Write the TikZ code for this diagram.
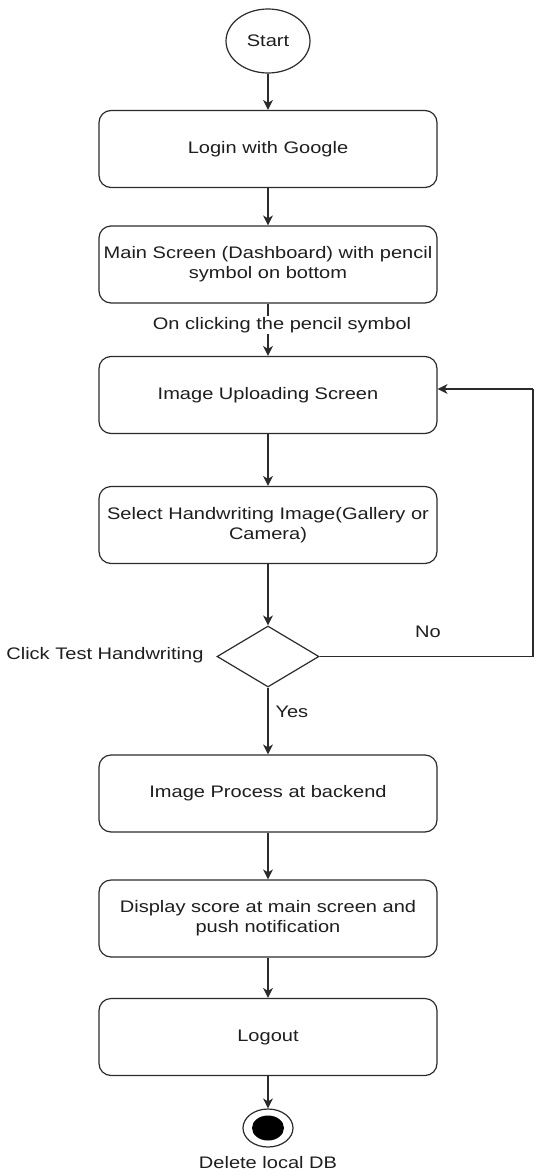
\documentclass[tikz,border=0pt]{standalone}
\usepackage{fontspec}
\setmainfont{Liberation Sans}[FakeStretch=1.2]
\usetikzlibrary{shapes.geometric,arrows.meta}
\definecolor{ln}{HTML}{2B2B2B}
\definecolor{tx}{HTML}{1E1E1E}
\begin{document}
\begin{tikzpicture}[x=1pt,y=-1pt,
  every node/.style={font=\fontsize{16.7}{20}\selectfont, text=tx},
  box/.style={draw=ln, line width=1.2pt, rounded corners=12pt, minimum width=338pt, minimum height=77pt, align=center, inner sep=0pt},
  conn/.style={draw=ln, line width=1.2pt, -{Stealth[length=10pt,width=10pt,inset=3pt]}},
  plain/.style={draw=ln, line width=1.2pt}]
\useasboundingbox (0,0) rectangle (535,1173);
\node[draw=ln, line width=1.2pt, ellipse, minimum width=84pt, minimum height=64pt, inner sep=0pt] (start) at (268,41) {Start};
\node[box] (login) at (268,149) {Login with Google};
\node[box] (main) at (268,264.5) {Main Screen (Dashboard) with pencil\\symbol on bottom};
\node[box] (upload) at (268,395) {Image Uploading Screen};
\node[box] (select) at (268,525) {Select Handwriting Image(Gallery or\\Camera)};
\node[draw=ln, line width=1.2pt, diamond, minimum width=102pt, minimum height=61pt, inner sep=0pt] (dec) at (268,656.5) {};
\node[box] (proc) at (268,793.5) {Image Process at backend};
\node[box] (disp) at (268,918.5) {Display score at main screen and\\push notification};
\node[box] (logout) at (268,1037) {Logout};
\node[draw=ln, line width=1.2pt, ellipse, minimum width=50pt, minimum height=38pt, inner sep=0pt] (end) at (268,1128) {};
\node[fill=black, ellipse, minimum width=32pt, minimum height=25pt, inner sep=0pt] (enddot) at (268,1128) {};
\node (endlbl) at (268,1163) {Delete local DB};
\node[anchor=east] (declbl) at (207,655) {Click Test Handwriting};
\node (nolbl) at (428,632) {No};
\node[anchor=west] (yeslbl) at (272,712) {Yes};
\coordinate (c1) at (533,656.5);
\coordinate (c2) at (533,389);
\coordinate (c3) at (upload.east |- c2);
\draw[conn] (start) -- (login);
\draw[conn] (login) -- (main);
\draw[conn] (main) -- (upload);
\node[fill=white, inner sep=1pt] (clicklbl) at (282,325) {On clicking the pencil symbol};
\draw[conn] (upload) -- (select);
\draw[conn] (select) -- (dec);
\draw[conn] (dec) -- (proc);
\draw[conn] (proc) -- (disp);
\draw[conn] (disp) -- (logout);
\draw[conn] (logout) -- (end);
\draw[plain] (dec.east) -- (c1) -- (c2);
\draw[conn] (c2) -- (c3);
\end{tikzpicture}
\end{document}
